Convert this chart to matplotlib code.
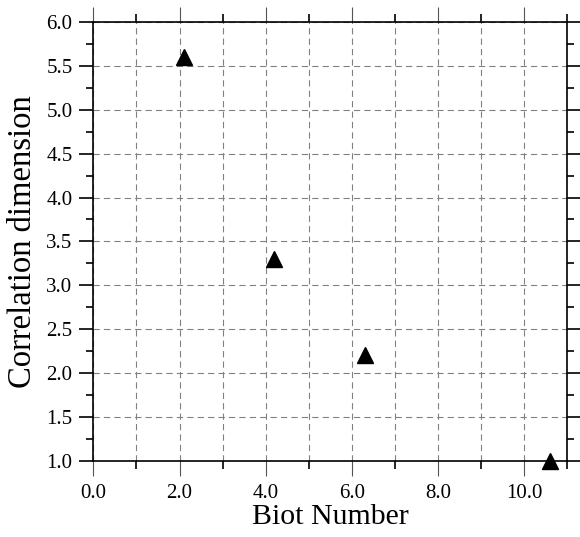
"""Correlation dimension against Biot number, scatter on a dashed grid."""

import matplotlib

matplotlib.use("Agg")
import matplotlib.pyplot as plt
from matplotlib.ticker import MultipleLocator, FormatStrFormatter

plt.rcParams["font.family"] = ["Liberation Serif", "DejaVu Serif"]
plt.rcParams["lines.scale_dashes"] = False

biot = [2.1, 4.2, 6.3, 10.6]
corr_dim = [5.6, 3.3, 2.2, 1.0]

fig = plt.figure(figsize=(5.8, 5.37), dpi=100)
ax = fig.add_axes([0.161, 0.142, 0.817, 0.817])

ax.plot(biot, corr_dim, linestyle="none", marker="^", markersize=11.5,
        color="black", clip_on=False, zorder=5)

ax.set_xlim(0, 11)
ax.set_ylim(1.0, 6.0)

ax.xaxis.set_major_locator(MultipleLocator(2.0))
ax.xaxis.set_minor_locator(MultipleLocator(1.0))
ax.yaxis.set_major_locator(MultipleLocator(0.5))
ax.yaxis.set_minor_locator(MultipleLocator(0.25))
ax.xaxis.set_major_formatter(FormatStrFormatter("%.1f"))
ax.yaxis.set_major_formatter(FormatStrFormatter("%.1f"))

grid_kw = dict(color="#808080", linewidth=0.8, linestyle=(0, (4.5, 3.0)))
ax.grid(True, which="major", axis="both", **grid_kw)
ax.grid(True, which="minor", axis="x", **grid_kw)

ax.tick_params(axis="x", which="major", direction="out", length=10.5,
               width=0.8, color="#555555", top=True, bottom=True,
               labelsize=15, pad=6)
ax.tick_params(axis="x", which="minor", direction="out", length=5.8,
               width=1.2, color="black", top=True, bottom=True)
ax.tick_params(axis="y", which="major", direction="out", length=10,
               width=1.2, color="black", left=True, right=True,
               labelsize=15, pad=5)
ax.tick_params(axis="y", which="minor", direction="out", length=5,
               width=1.2, color="black", left=True, right=True)

for spine in ax.spines.values():
    spine.set_linewidth(1.2)

ax.set_xlabel("Biot Number", fontsize=21.5, labelpad=1)
ax.set_ylabel("Correlation dimension", fontsize=23.5, labelpad=6)

fig.savefig("out.png", dpi=100)
